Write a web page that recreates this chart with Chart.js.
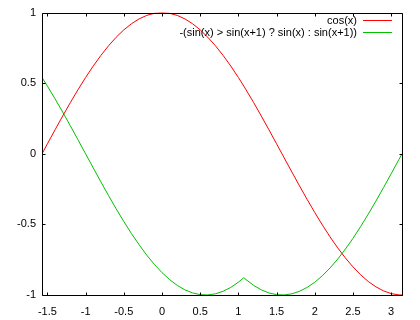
<!DOCTYPE html>
<html>
<head>
<meta charset="utf-8">
<script src="https://cdn.jsdelivr.net/npm/chart.js@4/dist/chart.umd.min.js"></script>
<style>
html,body{margin:0;padding:0;background:#fff;}
#wrap{width:420px;height:320px;position:relative;}
</style>
</head>
<body>
<div id="wrap"><canvas id="c" width="420" height="320"></canvas></div>
<script>
const xValues = [-1.5708,-1.5,-1.4,-1.3,-1.2,-1.1,-1.0,-0.9,-0.8,-0.7,-0.6,-0.5,-0.4,-0.3,-0.2,-0.1,0,0.1,0.2,0.3,0.4,0.5,0.6,0.7,0.8,0.9,1.0,1.0708,1.1,1.2,1.3,1.4,1.5,1.6,1.7,1.8,1.9,2.0,2.1,2.2,2.3,2.4,2.5,2.6,2.7,2.8,2.9,3.0,3.1,3.1416];
const cosValues = [0,0.0707,0.1700,0.2675,0.3624,0.4536,0.5403,0.6216,0.6967,0.7648,0.8253,0.8776,0.9211,0.9553,0.9801,0.9950,1,0.9950,0.9801,0.9553,0.9211,0.8776,0.8253,0.7648,0.6967,0.6216,0.5403,0.4794,0.4536,0.3624,0.2675,0.1700,0.0707,-0.0292,-0.1288,-0.2272,-0.3233,-0.4161,-0.5048,-0.5885,-0.6663,-0.7374,-0.8011,-0.8569,-0.9041,-0.9422,-0.9710,-0.9900,-0.9991,-1];
const maxSinValues = [0.5403,0.4794,0.3894,0.2955,0.1987,0.0998,0,-0.0998,-0.1987,-0.2955,-0.3894,-0.4794,-0.5646,-0.6442,-0.7174,-0.7833,-0.8415,-0.8912,-0.9320,-0.9636,-0.9854,-0.9975,-0.9996,-0.9917,-0.9738,-0.9463,-0.9093,-0.8776,-0.8912,-0.9320,-0.9636,-0.9854,-0.9975,-0.9996,-0.9917,-0.9738,-0.9463,-0.9093,-0.8632,-0.8085,-0.7457,-0.6755,-0.5985,-0.5155,-0.4274,-0.3350,-0.2392,-0.1411,-0.0416,0];
const seriesLabels = ["cos(x)", "-(sin(x) > sin(x+1) ? sin(x) : sin(x+1))"];
const xTicks = [-1.5,-1,-0.5,0,0.5,1,1.5,2,2.5,3];
const yTicks = [-1,-0.5,0,0.5,1];
const xMin = -1.5708, xMax = 3.1416;
const yMin = -1, yMax = 1;

const FONT = '"Liberation Sans", Arial, sans-serif';
const colors = ['#ff0000', '#00c000'];

const framePlugin = {
  id: 'gnuframe',
  afterDatasetsDraw(chart) {
    const ctx = chart.ctx;
    const a = chart.chartArea;
    const xs = chart.scales.x, ys = chart.scales.y;
    ctx.save();
    ctx.strokeStyle = '#000000';
    ctx.lineWidth = 1;
    const L = Math.round(a.left) + 0.5, R = Math.round(a.right) + 0.5;
    const T = Math.round(a.top) + 0.5, B = Math.round(a.bottom) + 0.5;
    ctx.beginPath();
    ctx.rect(L, T, R - L, B - T);
    ctx.stroke();
    const tl = 3;
    ctx.beginPath();
    xTicks.forEach(v => {
      const px = Math.round(xs.getPixelForValue(v)) + 0.5;
      ctx.moveTo(px, B); ctx.lineTo(px, B - tl);
      ctx.moveTo(px, T); ctx.lineTo(px, T + tl);
    });
    yTicks.forEach(v => {
      const py = Math.round(ys.getPixelForValue(v)) + 0.5;
      ctx.moveTo(L, py); ctx.lineTo(L + tl, py);
      ctx.moveTo(R, py); ctx.lineTo(R - tl, py);
    });
    ctx.stroke();
    ctx.restore();
    // legend
    chart.data.datasets.forEach((ds, i) => {
      const y = 21 + i * 12;
      ctx.save();
      ctx.font = '11px ' + FONT;
      ctx.fillStyle = '#000000';
      ctx.textAlign = 'right';
      ctx.textBaseline = 'middle';
      ctx.fillText(ds.label, 357, y);
      ctx.restore();
      ctx.save();
      ctx.fillStyle = colors[i];
      ctx.fillRect(363, y - 1, 29, 1);
      ctx.restore();
    });
  }
};

const toPoints = ys => xValues.map((x, i) => ({x: x, y: ys[i]}));

new Chart(document.getElementById('c'), {
  type: 'line',
  data: {
    datasets: [
      {label: seriesLabels[0], data: toPoints(cosValues), borderColor: colors[0], borderWidth: 1, pointRadius: 0, tension: 0, fill: false},
      {label: seriesLabels[1], data: toPoints(maxSinValues), borderColor: colors[1], borderWidth: 1, pointRadius: 0, tension: 0, fill: false}
    ]
  },
  options: {
    responsive: false,
    animation: false,
    devicePixelRatio: 1,
    layout: {padding: {top: 12, right: 18, left: 0, bottom: 0}},
    plugins: {legend: {display: false}, tooltip: {enabled: false}},
    scales: {
      x: {
        type: 'linear', min: xMin, max: xMax,
        grid: {display: false, drawTicks: false},
        border: {display: false},
        afterBuildTicks: s => { s.ticks = xTicks.map(v => ({value: v})); },
        afterFit: s => { s.height = 25; },
        ticks: {color: '#000', font: {family: FONT, size: 11}, padding: 10, maxRotation: 0, autoSkip: false, callback: v => String(v)}
      },
      y: {
        type: 'linear', min: yMin, max: yMax,
        grid: {display: false, drawTicks: false},
        border: {display: false},
        afterBuildTicks: s => { s.ticks = yTicks.map(v => ({value: v})); },
        afterFit: s => { s.width = 42; },
        ticks: {color: '#000', font: {family: FONT, size: 11}, padding: 6, autoSkip: false, callback: v => String(v)}
      }
    }
  },
  plugins: [framePlugin]
});
</script>
</body>
</html>
